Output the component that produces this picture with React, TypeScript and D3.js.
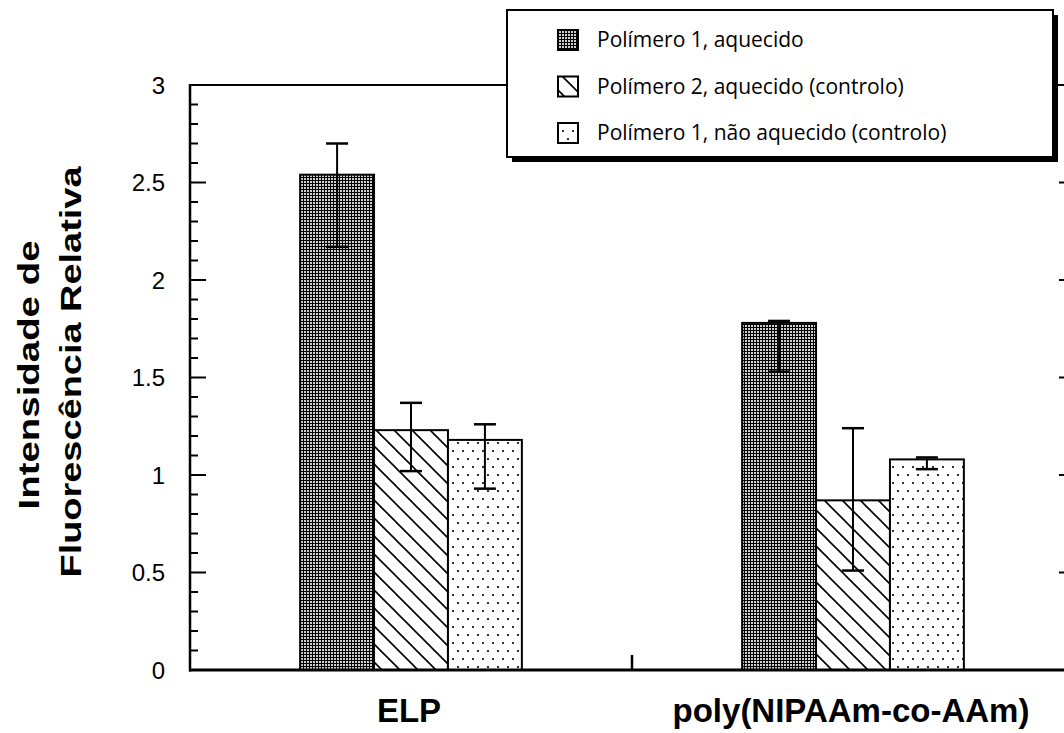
import React from "react";
import * as d3 from "d3";

const categories = ["ELP", "poly(NIPAAm-co-AAm)"];
const seriesNames = [
  "Polímero 1, aquecido",
  "Polímero 2, aquecido (controlo)",
  "Polímero 1, não aquecido (controlo)",
];
const heated1 = [2.54, 1.78];
const heated2 = [1.23, 0.87];
const unheated1 = [1.18, 1.08];
const heated1Low = [2.17, 1.53];
const heated1High = [2.7, 1.79];
const heated2Low = [1.02, 0.51];
const heated2High = [1.37, 1.24];
const unheated1Low = [0.93, 1.03];
const unheated1High = [1.26, 1.09];
const yTicks = [0, 0.5, 1, 1.5, 2, 2.5, 3];

const seriesValues = [heated1, heated2, unheated1];
const seriesLow = [heated1Low, heated2Low, unheated1Low];
const seriesHigh = [heated1High, heated2High, unheated1High];
const patternIds = ["pat-dense", "pat-hatch", "pat-dots"];

const W = 1064;
const H = 733;
const left = 190;
const right = 1074;
const top = 85;
const bottom = 670;

export default function App() {
  const x = d3.scaleBand<string>().domain(categories).range([left, right]);
  const xs = d3
    .scaleBand<number>()
    .domain([0, 1, 2])
    .range([0, x.bandwidth()])
    .paddingInner(0)
    .paddingOuter(1.49);
  const y = d3.scaleLinear().domain([0, 3]).range([bottom, top]);
  const minor = d3.range(0, 3.0001, 0.1).map((v) => +v.toFixed(1));

  return (
    <svg
      width={W}
      height={H}
      style={{ position: "absolute", left: 0, top: 0, background: "#fff" }}
      fontFamily="'Liberation Sans', Arial, sans-serif"
    >
      <defs>
        <pattern id="pat-dense" width={3} height={3} patternUnits="userSpaceOnUse">
          <rect width={3} height={3} fill="#000" />
          <rect x={1} y={1} width={2} height={2} fill="#cfcfcf" />
        </pattern>
        <pattern id="pat-hatch" width={18} height={18} patternUnits="userSpaceOnUse">
          <rect width={18} height={18} fill="#fff" />
          <path d="M0,0 L18,18 M-9,9 L9,27 M9,-9 L27,9" stroke="#000" strokeWidth={1.6} />
        </pattern>
        <pattern id="pat-dots" width={10} height={16} patternUnits="userSpaceOnUse">
          <rect width={10} height={16} fill="#fff" />
          <circle cx={3} cy={3} r={1.1} fill="#000" />
          <circle cx={8} cy={11} r={1.1} fill="#000" />
        </pattern>
      </defs>

      {/* bars */}
      {categories.map((c, ci) =>
        seriesValues.map((vals, si) => {
          const bx = (x(c) as number) + (xs(si) as number);
          const bw = xs.bandwidth();
          const v = vals[ci];
          return (
            <rect
              key={`b-${ci}-${si}`}
              x={bx}
              y={y(v)}
              width={bw}
              height={y(0) - y(v)}
              fill={`url(#${patternIds[si]})`}
              stroke="#000"
              strokeWidth={2}
            />
          );
        })
      )}

      {/* error bars */}
      {categories.map((c, ci) =>
        seriesValues.map((_, si) => {
          const cx = (x(c) as number) + (xs(si) as number) + xs.bandwidth() / 2;
          const lo = y(seriesLow[si][ci]);
          const hi = y(seriesHigh[si][ci]);
          return (
            <g key={`e-${ci}-${si}`} stroke="#000" strokeWidth={2}>
              <line x1={cx} x2={cx} y1={hi} y2={lo} />
              <line x1={cx - 11} x2={cx + 11} y1={hi} y2={hi} strokeWidth={2.5} />
              <line x1={cx - 11} x2={cx + 11} y1={lo} y2={lo} strokeWidth={2.5} />
            </g>
          );
        })
      )}

      {/* frame */}
      <line x1={left} x2={right} y1={top} y2={top} stroke="#000" strokeWidth={2} />
      <line x1={left} x2={left} y1={top - 1} y2={bottom + 1.5} stroke="#000" strokeWidth={2.5} />
      <line x1={right} x2={right} y1={top} y2={bottom} stroke="#000" strokeWidth={2} />
      <line x1={left - 1} x2={right} y1={bottom} y2={bottom} stroke="#000" strokeWidth={3} />

      {/* left ticks */}
      {minor.map((v) => {
        const major = yTicks.includes(v);
        if (v === 0 || v === 3) return null;
        return (
          <line
            key={`m-${v}`}
            x1={left}
            x2={left + (major ? 16 : 8)}
            y1={y(v)}
            y2={y(v)}
            stroke="#000"
            strokeWidth={2}
          />
        );
      })}
      {/* right ticks */}
      {yTicks.slice(1, -1).map((v) => (
        <line key={`r-${v}`} x1={right - 15} x2={right} y1={y(v)} y2={y(v)} stroke="#000" strokeWidth={2} />
      ))}
      {/* category separator tick */}
      <line
        x1={(x(categories[1]) as number)}
        x2={(x(categories[1]) as number)}
        y1={bottom - 15}
        y2={bottom}
        stroke="#000"
        strokeWidth={2.5}
      />

      {/* y tick labels */}
      {yTicks.map((v) => (
        <text
          key={`t-${v}`}
          x={165}
          y={y(v)}
          dy="0.36em"
          textAnchor="end"
          fontSize={24}
          fill="#000"
        >
          {String(v)}
        </text>
      ))}

      {/* category labels */}
      {categories.map((c) => (
        <text
          key={`c-${c}`}
          x={(x(c) as number) + x.bandwidth() / 2 - 2}
          y={722}
          textAnchor="middle"
          fontSize={33}
          fontWeight="bold"
          fill="#000"
        >
          {c}
        </text>
      ))}

      {/* y axis title */}
      <g transform="translate(39,375) rotate(-90)">
        <text x={0} y={0} textAnchor="middle" fontSize={29} fontWeight="bold" textLength={269} lengthAdjust="spacingAndGlyphs">
          Intensidade de
        </text>
      </g>
      <g transform="translate(81,372) rotate(-90)">
        <text x={0} y={0} textAnchor="middle" fontSize={29} fontWeight="bold" textLength={411} lengthAdjust="spacingAndGlyphs">
          Fluorescência Relativa
        </text>
      </g>

      {/* legend */}
      <g>
        <rect x={512} y={15} width={546} height={147} fill="#000" />
        <rect x={507} y={10} width={546} height={147} fill="#fff" stroke="#000" strokeWidth={2} />
        {seriesNames.map((n, i) => {
          const ry = 40 + i * 46.5;
          return (
            <g key={`l-${i}`}>
              <rect
                x={558}
                y={ry - 10}
                width={20}
                height={20}
                fill={`url(#${patternIds[i]})`}
                stroke="#000"
                strokeWidth={2}
              />
              <text x={597} y={ry} dy="0.35em" fontSize={21} fontFamily="'Open Sans', sans-serif" fill="#000">
                {n}
              </text>
            </g>
          );
        })}
      </g>
    </svg>
  );
}
